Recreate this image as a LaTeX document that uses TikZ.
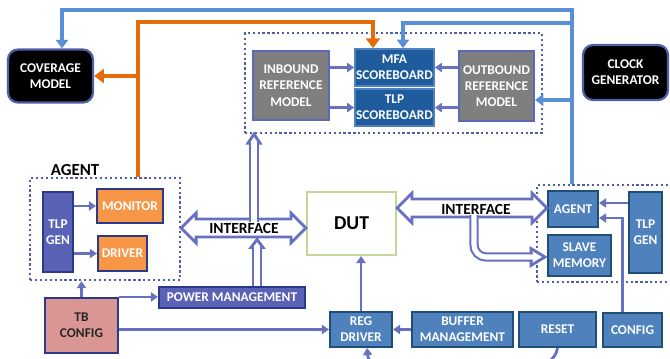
\documentclass[tikz,border=0pt]{standalone}
\usepackage{fontspec}
\setmainfont{Carlito}
\usetikzlibrary{arrows.meta,calc,positioning}
\definecolor{busblue}{HTML}{5A8FD8}
\definecolor{busorange}{HTML}{E46C0A}
\definecolor{linkblue}{HTML}{6870C0}
\definecolor{dotblue}{HTML}{4F5FA8}
\definecolor{tlpblue}{HTML}{5A62B6}
\definecolor{navy}{HTML}{2A3A88}
\definecolor{sbblue}{HTML}{1F5C9E}
\definecolor{boxblue}{HTML}{4F81BD}
\definecolor{boxedge}{HTML}{1F4E79}
\definecolor{refgray}{HTML}{7F7F7F}
\definecolor{edgepurple}{HTML}{5A6AB8}
\definecolor{monorange}{HTML}{F79646}
\definecolor{tbpink}{HTML}{D99694}
\definecolor{dutgreen}{HTML}{C3D69B}
\newcommand{\px}{0.025cm}
% hollow two-headed arrow between two tips on one level
\newcommand{\dblarr}[2]{%
  \filldraw[hollowarr] (#1) -- ++(15,-15) -- ++(0,6) -- ($(#2)+(-15,-9)$) -- ++(0,-6) -- (#2)
    -- ++(-15,15) -- ++(0,-6) -- ($(#1)+(15,9)$) -- ++(0,6) -- cycle;}
\tikzset{
 lbl/.style={font=\bfseries\fontsize{9.5}{11.5}\selectfont, align=center, inner sep=0pt, text=white},
 sz/.style 2 args={minimum width=#1*\px, minimum height=#2*\px},
 blackbox/.style={lbl, fill=black, draw=dotblue, line width=1.6pt, rounded corners=0.25cm},
 graybox/.style={lbl, fill=refgray, draw=edgepurple, line width=1.5pt},
 sbbox/.style={lbl, fill=sbblue, draw=boxblue, line width=1.2pt},
 tlpbox/.style={lbl, fill=tlpblue, draw=navy, line width=1.5pt},
 orbox/.style={lbl, fill=monorange, draw=navy, line width=1.5pt},
 bluebox/.style={lbl, fill=boxblue, draw=boxedge, line width=1.5pt},
 pinkbox/.style={lbl, fill=tbpink, draw=navy, line width=1.5pt, text=black!85},
 dutbox/.style={lbl, fill=white, draw=dutgreen, line width=1.5pt, text=black, font=\bfseries\fontsize{14}{16}\selectfont},
 dotbox/.style={draw=dotblue, line width=1.6pt, dash pattern=on 1.6pt off 1.9pt, inner sep=0pt},
 iflbl/.style={font=\bfseries\fontsize{11}{13}\selectfont, inner sep=0pt},
 wire/.style={draw=linkblue, line width=2pt, -{Triangle[length=5pt,width=6.5pt]}},
 bluebus/.style={draw=busblue, line width=2.6pt, -{Triangle[length=6pt,width=8.5pt]}},
 orangebus/.style={draw=busorange, line width=3.4pt, -{Triangle[length=7pt,width=10pt]}},
 hollowarr/.style={draw=linkblue, fill=white, line width=2pt},
 hshaft/.style={draw=linkblue, line width=1.5pt, double=white, double distance=3.6pt},
}
\begin{document}
\begin{tikzpicture}[x=\px, y=-\px]
    \useasboundingbox (0,0) rectangle (670,358);
    \clip (0,0) rectangle (670,358);
    % outside models
    \node[blackbox, sz={85}{53}] (cov) at (50.5,76) {COVERAGE\\MODEL};
    \node[blackbox, sz={85}{55}] (clk) at (625.5,72.5) {CLOCK\\GENERATOR};
    % scoreboard block
    \node[dotbox, sz={297}{100}] (refs) at (393.5,83) {};
    \node[graybox, sz={76}{69}] (inb) at (291,85.5) {INBOUND\\REFERENCE\\MODEL};
    \node[sbbox, sz={79}{37}] (mfa) at (394.5,67.5) {MFA\\SCOREBOARD};
    \node[sbbox, sz={79}{37}, below=1pt of mfa] (tlpsb) {TLP\\SCOREBOARD};
    \node[graybox, sz={75}{70}] (outb) at (496.5,86) {OUTBOUND\\REFERENCE\\MODEL};
    % left agent
    \node[dotbox, sz={150}{102}] (lag) at (105,229) {};
    \node[iflbl, font=\bfseries\fontsize{12}{14}\selectfont] (laglbl) at (75,170) {AGENT};
    \node[tlpbox, sz={30}{80}] (ltlp) at (58,232) {TLP\\GEN};
    \node[orbox, sz={66}{34}] (mon) at (130,206) {MONITOR};
    \node[orbox, sz={49}{35}] (drv) at (122.5,253.5) {DRIVER};
    \node[tlpbox, sz={146}{21}] (pwr) at (232,297.5) {POWER MANAGEMENT};
    \node[pinkbox, sz={73}{55}] (tbc) at (81.5,325.5) {TB\\CONFIG};
    \node[dutbox, sz={89}{63}] (dut) at (351.5,223.5) {DUT};
    % right agent
    \node[dotbox, sz={150}{97}] (rag) at (612,233.5) {};
    \node[bluebox, sz={50}{36}] (ragent) at (573,209) {AGENT};
    \node[bluebox, sz={63}{41}] (smem) at (579.5,255.5) {SLAVE\\MEMORY};
    \node[bluebox, sz={33}{81}] (rtlp) at (645.5,232.5) {TLP\\GEN};
    % bottom row
    \node[bluebox, sz={62}{35}] (regd) at (361,329.5) {REG\\DRIVER};
    \node[bluebox, sz={101}{35}] (buf) at (462.5,329.5) {BUFFER\\MANAGEMENT};
    \node[bluebox, sz={77}{35}] (rst) at (557.5,329.5) {RESET};
    \node[bluebox, sz={59}{34}] (cfg) at (632.5,330) {CONFIG};

    % interfaces
    \coordinate (ifly) at (244,228);
    \coordinate (ifry) at (476,208);
    \dblarr{lag.east |- ifly}{dut.west |- ifly}
    \dblarr{dut.east |- ifry}{ragent.west |- ifry}
    \coordinate (upa) at ($(ifly)+(10,-6.5)$);
    \filldraw[hollowarr] (upa |- refs.south) -- ++(6,9) -- ++(-12,0) -- cycle;
    \draw[hshaft] (upa) -- ($(upa |- refs.south)+(0,7)$);
    \coordinate (upb) at ($(ifly)+(13,11.5)$);
    \filldraw[hollowarr] (upb) -- ++(6,8) -- ++(-12,0) -- cycle;
    \draw[hshaft] (pwr.north -| upb) -- ($(upb)+(0,6.5)$);
    \coordinate (smin) at ($(smem.west)+(-2,1.5)$);
    \filldraw[hollowarr] (smin) -- ++(-14,-8.5) -- ++(0,17) -- cycle;
    \draw[hshaft, rounded corners=0.3cm] ($(ifry)+(-2,7)$) |- ($(smin)+(-12,0)$);
    \node[iflbl] (ifl) at (ifly) {INTERFACE};
    \node[iflbl] (ifr) at ($(ifry)+(0,1)$) {INTERFACE};

    % coverage and scoreboard buses
    \coordinate (ojoin) at (138,22);
    \draw[orangebus] (lag.north -| ojoin) -- (ojoin) -| ($(mfa.north)+(-21.5,0)$);
    \draw[orangebus] (ojoin |- cov.east) -- (cov.east);
    \coordinate (bjoin) at (572,10);
    \draw[bluebus] (rag.north -| bjoin) -- (bjoin) -| ($(cov.north)+(11.5,0)$);
    \draw[bluebus] (bjoin |- 0,23) -| ($(mfa.north)+(8.5,0)$);
    \draw[bluebus] (bjoin |- 0,100) -- (outb.east |- 0,100);

    % plain links
    \draw[wire] (ltlp.east |- mon) -- (mon);
    \draw[wire] (ltlp.east |- drv) -- (drv);
    \draw[wire] (inb.east |- mfa) -- (mfa);
    \draw[wire] (inb.east |- tlpsb) -- (tlpsb);
    \draw[wire] (outb.west |- mfa) -- (mfa);
    \draw[wire] (outb.west |- tlpsb) -- (tlpsb);
    \draw[wire] (tbc.north) -- (tbc.north |- lag.south);
    \draw[wire] (tbc.north east) -- (tbc.north east -| pwr.west);
    \draw[wire] (tbc.east |- regd) -- (regd);
    \draw[wire] (regd.north) -- (regd.north |- dut.south);
    \draw[wire] (buf) -- (regd);
    \coordinate (tlpin) at ($(ragent.east)+(0,-6)$);
    \draw[wire] (rtlp.west |- tlpin) -- (tlpin);
    \draw[wire] ($(cfg.north)+(-10,0)$) |- ($(ragent.east)+(0,9)$);
    \draw[wire] (rst.south) .. controls +(-6,45) and +(4,45) .. ($(regd.south)+(6,0)$);
\end{tikzpicture}
\end{document}
